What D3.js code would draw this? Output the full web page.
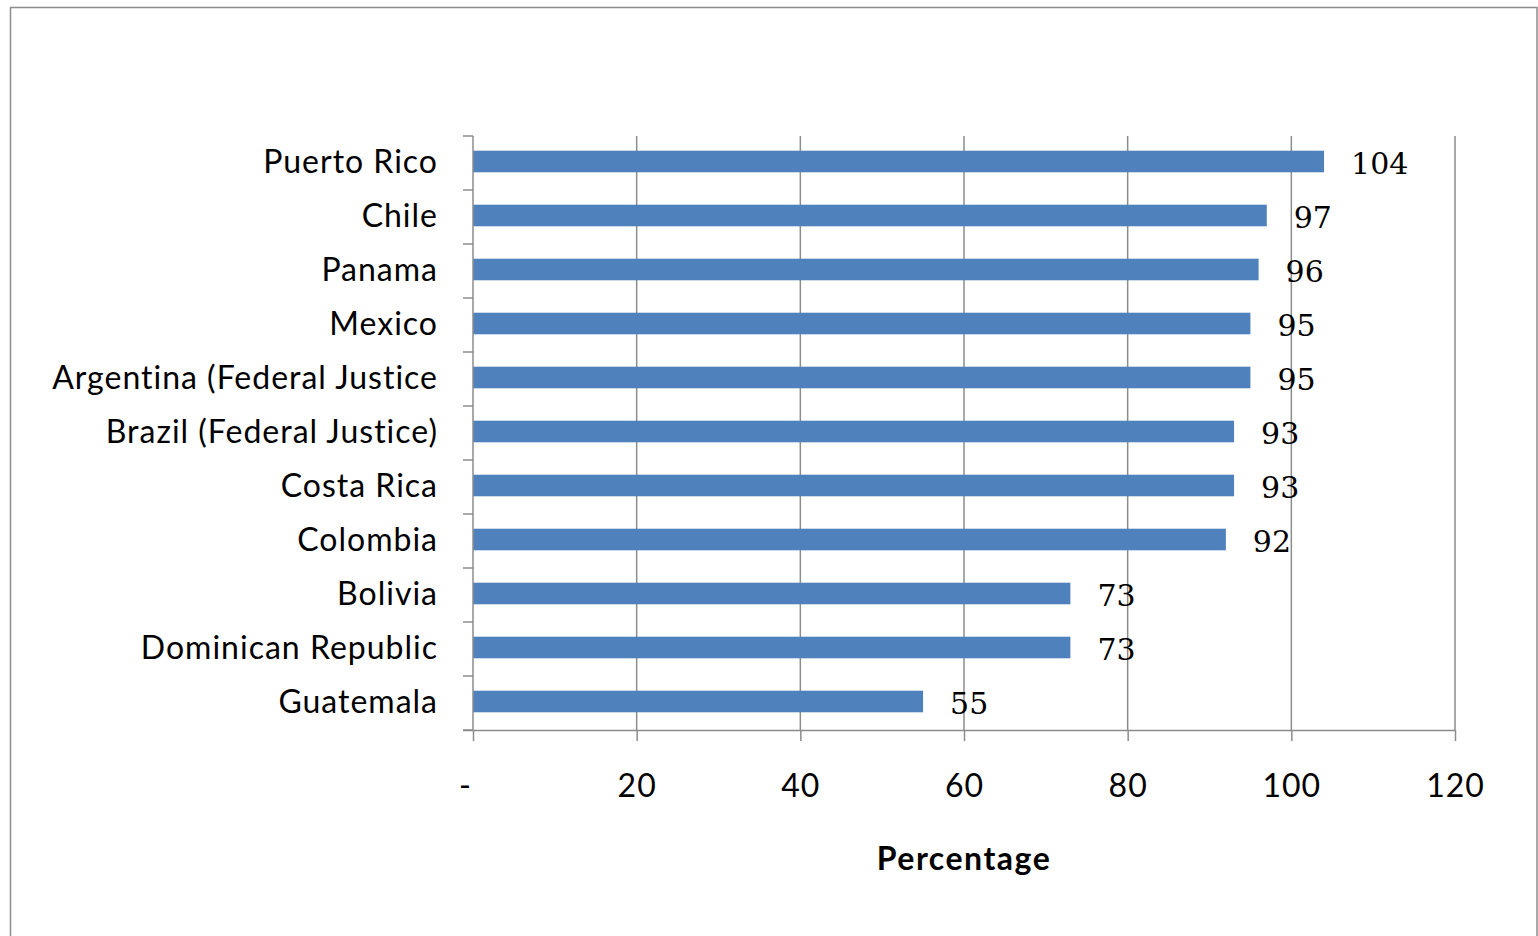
<!DOCTYPE html>
<html>
<head>
<meta charset="utf-8">
<script src="https://cdn.jsdelivr.net/npm/d3@7/dist/d3.min.js"></script>
<style>
  html, body { margin: 0; padding: 0; background: #fff; }
  svg { display: block; }
  text { font-family: Lato, "Open Sans", sans-serif; fill: #000; }
</style>
</head>
<body>
<svg id="chart" width="1538" height="936"></svg>
<script>
// Countries, top to bottom
const categories = [
  "Puerto Rico", "Chile", "Panama", "Mexico", "Argentina (Federal Justice",
  "Brazil (Federal Justice)", "Costa Rica", "Colombia", "Bolivia",
  "Dominican Republic", "Guatemala"
];
// Percentage per country
const values = [104, 97, 96, 95, 95, 93, 93, 92, 73, 73, 55];
// X axis ticks
const xTicks = [0, 20, 40, 60, 80, 100, 120];
const axisTitle = "Percentage";

const W = 1538, H = 936;
const margin = { left: 473, top: 136, right: 83, bottom: 206 };
const svg = d3.select("#chart");

// Outer chart frame
svg.append("rect")
  .attr("x", 10.5).attr("y", 7.5)
  .attr("width", 1537 - 10.5).attr("height", H + 10)
  .attr("fill", "#fff").attr("stroke", "#8c8c8c").attr("stroke-width", 1.5);

const x = d3.scaleLinear().domain([0, 120]).range([margin.left, W - margin.right]);
const y = d3.scaleBand().domain(categories)
  .range([margin.top, H - margin.bottom])
  .paddingInner(0.6).paddingOuter(0.3);

const gridColor = "#8c8c8c";
const y0 = margin.top, y1 = H - margin.bottom;

// Vertical gridlines
svg.append("g").selectAll("line").data(xTicks.slice(1)).join("line")
  .attr("x1", d => x(d)).attr("x2", d => x(d))
  .attr("y1", y0).attr("y2", y1)
  .attr("stroke", gridColor).attr("stroke-width", 1.5);

// Bars
svg.append("g").selectAll("rect").data(values).join("rect")
  .attr("x", x(0))
  .attr("y", (d, i) => y(categories[i]) - 1.5)
  .attr("width", d => x(d) - x(0))
  .attr("height", y.bandwidth())
  .attr("fill", "#4f81bd");

// Value labels
svg.append("g").selectAll("text").data(values).join("text")
  .attr("x", d => x(d) + 27)
  .attr("y", (d, i) => y(categories[i]) + y.bandwidth() / 2)
  .attr("dy", "0.36em")
  .attr("font-size", 30)
  .style("font-family", "'DejaVu Serif', serif")
  .text(d => d);

// X axis
const xAxis = d3.axisBottom(x).tickValues(xTicks).tickSize(11).tickSizeOuter(0)
  .tickFormat(d => d === 0 ? "-" : d);
const gx = svg.append("g").attr("transform", `translate(0,${y1})`).call(xAxis);
gx.select(".domain").attr("stroke", gridColor).attr("stroke-width", 1.5)
  .attr("d", `M${x(0) - 10},0.5H${x(120)}`);
gx.selectAll(".tick line").attr("stroke", gridColor).attr("stroke-width", 1.5);
gx.selectAll(".tick text")
  .attr("font-size", 32).attr("font-family", "Lato, 'Open Sans', sans-serif")
  .attr("letter-spacing", 1)
  .attr("fill", "#000").attr("y", 44)
  .attr("dx", d => d === 0 ? -8 : 0);

// Y axis with tick marks on band boundaries
const gy = svg.append("g");
gy.append("line")
  .attr("x1", x(0)).attr("x2", x(0)).attr("y1", y0).attr("y2", y1)
  .attr("stroke", gridColor).attr("stroke-width", 1.5);
gy.selectAll("line.tk").data(d3.range(categories.length + 1)).join("line")
  .attr("class", "tk")
  .attr("x1", x(0) - 10).attr("x2", x(0))
  .attr("y1", i => y0 + i * y.step()).attr("y2", i => y0 + i * y.step())
  .attr("stroke", gridColor).attr("stroke-width", 1.5);
gy.selectAll("text").data(categories).join("text")
  .attr("x", x(0) - 35)
  .attr("y", d => y(d) + y.bandwidth() / 2 - 2)
  .attr("dy", "0.36em")
  .attr("text-anchor", "end")
  .attr("font-size", 32)
  .attr("letter-spacing", 1)
  .text(d => d);

// Axis title
svg.append("text")
  .attr("x", (x(0) + x(120)) / 2)
  .attr("y", 870)
  .attr("text-anchor", "middle")
  .attr("font-size", 32).attr("font-weight", "bold")
  .attr("letter-spacing", 1.5)
  .text(axisTitle);
</script>
</body>
</html>
